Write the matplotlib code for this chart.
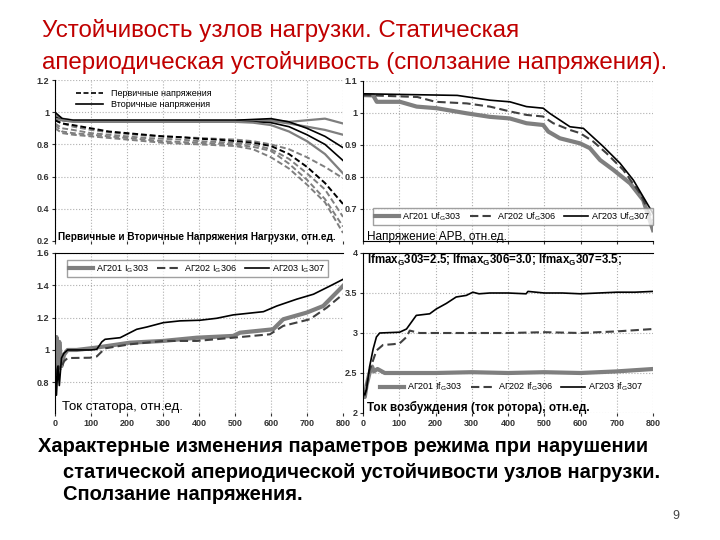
import matplotlib
matplotlib.use("Agg")
import matplotlib.pyplot as plt

plt.rcParams['font.family'] = ['Liberation Sans', 'DejaVu Sans']

# ---- data ----
# top left: primary (dashed) and secondary (solid) load voltages
tl_x = [0, 20, 50, 100, 150, 200, 250, 300, 350, 400, 450, 500, 550, 600, 650, 700, 750, 800]
tl_solid = [
    ('gray',  [0.99, 0.96, 0.95, 0.95, 0.95, 0.95, 0.95, 0.95, 0.95, 0.95, 0.95, 0.95, 0.95, 0.95, 0.94, 0.95, 0.96, 0.93]),
    ('gray',  [0.98, 0.95, 0.945, 0.945, 0.945, 0.945, 0.945, 0.945, 0.945, 0.945, 0.945, 0.945, 0.945, 0.945, 0.93, 0.91, 0.89, 0.86]),
    ('black', [1.0, 0.96, 0.95, 0.95, 0.95, 0.95, 0.95, 0.95, 0.95, 0.95, 0.95, 0.95, 0.955, 0.96, 0.94, 0.90, 0.85, 0.78]),
    ('black', [0.97, 0.95, 0.945, 0.94, 0.94, 0.94, 0.94, 0.94, 0.94, 0.94, 0.94, 0.94, 0.94, 0.935, 0.91, 0.86, 0.80, 0.70]),
    ('gray',  [0.96, 0.95, 0.94, 0.94, 0.94, 0.94, 0.94, 0.94, 0.94, 0.94, 0.94, 0.94, 0.935, 0.92, 0.88, 0.82, 0.74, 0.62]),
]
tl_dashed = [
    ('gray',  [0.95, 0.93, 0.91, 0.89, 0.875, 0.865, 0.855, 0.85, 0.845, 0.84, 0.835, 0.83, 0.82, 0.80, 0.77, 0.72, 0.66, 0.59]),
    ('black', [0.95, 0.93, 0.92, 0.90, 0.88, 0.87, 0.86, 0.85, 0.845, 0.835, 0.83, 0.82, 0.81, 0.79, 0.74, 0.66, 0.56, 0.43]),
    ('gray',  [0.93, 0.90, 0.89, 0.87, 0.86, 0.85, 0.84, 0.835, 0.83, 0.82, 0.815, 0.81, 0.80, 0.77, 0.71, 0.62, 0.52, 0.35]),
    ('gray',  [0.92, 0.88, 0.87, 0.86, 0.85, 0.84, 0.83, 0.82, 0.815, 0.81, 0.805, 0.80, 0.785, 0.76, 0.68, 0.58, 0.46, 0.29]),
    ('gray',  [0.90, 0.87, 0.86, 0.85, 0.84, 0.83, 0.82, 0.81, 0.805, 0.80, 0.795, 0.79, 0.77, 0.72, 0.65, 0.55, 0.44, 0.25]),
]

# top right: AVR voltage
tr_gray_x = [0, 28, 38, 102, 148, 203, 286, 350, 405, 451, 497, 511, 543, 599, 626, 654, 691, 737, 773, 800]
tr_gray_y = [1.056, 1.055, 1.035, 1.035, 1.02, 1.015, 0.999, 0.988, 0.983, 0.968, 0.9625, 0.942, 0.921, 0.905, 0.89, 0.853, 0.822, 0.78, 0.728, 0.634]
tr_dash_x = [0, 150, 200, 286, 350, 405, 451, 497, 525, 571, 599, 635, 672, 718, 764, 800]
tr_dash_y = [1.056, 1.05, 1.035, 1.03, 1.02, 1.005, 0.994, 0.989, 0.968, 0.947, 0.937, 0.911, 0.874, 0.822, 0.749, 0.665]
tr_black_x = [0, 260, 350, 405, 451, 497, 515, 571, 608, 663, 709, 746, 800]
tr_black_y = [1.06, 1.055, 1.04, 1.035, 1.02, 1.015, 0.999, 0.957, 0.952, 0.895, 0.843, 0.79, 0.686]

# bottom left: stator current
bl_gray_x = [0, 4, 8, 12, 18, 25, 35, 60, 116, 208, 301, 394, 495, 514, 606, 634, 699, 745, 800]
bl_gray_y = [0.9, 1.08, 0.85, 1.05, 0.9, 0.97, 1.0, 1.0, 1.015, 1.045, 1.056, 1.076, 1.087, 1.107, 1.128, 1.19, 1.231, 1.272, 1.396]
bl_dash_x = [0, 5, 10, 15, 25, 35, 97, 116, 139, 208, 301, 394, 495, 597, 634, 708, 755, 800]
bl_dash_y = [0.9, 0.85, 0.9, 0.88, 0.93, 0.95, 0.952, 0.96, 1.01, 1.035, 1.056, 1.056, 1.076, 1.097, 1.149, 1.19, 1.262, 1.345]
bl_black_x = [0, 4, 8, 12, 18, 25, 35, 60, 100, 116, 130, 139, 181, 227, 255, 301, 347, 403, 449, 495, 579, 616, 671, 718, 764, 800]
bl_black_y = [0.95, 0.72, 0.9, 0.78, 0.95, 0.98, 1.0, 1.0, 1.0, 1.004, 1.05, 1.066, 1.076, 1.128, 1.142, 1.169, 1.18, 1.184, 1.196, 1.217, 1.237, 1.272, 1.314, 1.345, 1.396, 1.437]

# bottom right: field current
br_gray_x = [0, 5, 10, 18, 25, 30, 40, 60, 100, 200, 300, 400, 500, 600, 700, 800]
br_gray_y = [2.25, 2.2, 2.35, 2.5, 2.58, 2.52, 2.55, 2.5, 2.5, 2.5, 2.51, 2.5, 2.51, 2.5, 2.52, 2.55]
br_dash_x = [0, 5, 10, 18, 37, 55, 83, 101, 120, 129, 156, 200, 300, 400, 500, 600, 700, 800]
br_dash_y = [2.25, 2.22, 2.35, 2.53, 2.78, 2.85, 2.86, 2.87, 2.95, 3.03, 3.0, 3.0, 3.0, 3.0, 3.01, 3.0, 3.02, 3.05]
br_black_x = [0, 5, 10, 18, 28, 37, 46, 101, 120, 147, 184, 202, 230, 257, 285, 303, 320, 350, 400, 450, 455, 500, 550, 600, 650, 700, 750, 800]
br_black_y = [2.25, 2.23, 2.3, 2.575, 2.8, 2.95, 3.0, 3.01, 3.05, 3.22, 3.24, 3.3, 3.37, 3.45, 3.47, 3.51, 3.49, 3.5, 3.5, 3.49, 3.52, 3.5, 3.5, 3.49, 3.5, 3.51, 3.51, 3.52]

x_ticks = [0, 100, 200, 300, 400, 500, 600, 700, 800]

GRAY = '#7f7f7f'
W, H = 720.0, 540.0


def box(left, top, right, bottom):
    return [left / W, 1 - bottom / H, (right - left) / W, (bottom - top) / H]


def style(ax, yticks, ylabels, ylim, show_x):
    ax.set_xlim(0, 800)
    ax.set_ylim(*ylim)
    ax.set_xticks(x_ticks)
    ax.set_yticks(yticks)
    ax.set_yticklabels(ylabels, fontweight='bold')
    if show_x:
        ax.set_xticklabels([str(t) for t in x_ticks], fontweight='bold')
    else:
        ax.set_xticklabels([])
    ax.grid(True, color='#b0b0b0', linestyle=':', linewidth=0.8)
    ax.tick_params(labelsize=6.5, length=2, colors='#333333', pad=2)
    for s in ['top', 'right', 'bottom']:
        ax.spines[s].set_visible(False)
    ax.spines['left'].set_linewidth(0.8)


def legend(ax, anchor, loc, frame):
    ax.legend(loc=loc, bbox_to_anchor=(anchor[0] / W, 1 - anchor[1] / H), bbox_transform=fig.transFigure,
              ncol=3, fontsize=6.5, frameon=frame, fancybox=False, edgecolor='#888888',
              handlelength=2.6, columnspacing=0.9, borderpad=0.3, handletextpad=0.4)


fig = plt.figure(figsize=(7.2, 5.4), dpi=100)

# ---------- top left ----------
ax1 = fig.add_axes(box(55, 80, 343, 241))
for c, y in tl_solid:
    ax1.plot(tl_x, y, color=GRAY if c == 'gray' else 'black', lw=1.6 if c == 'gray' else 1.2)
for c, y in tl_dashed:
    ax1.plot(tl_x, y, color=GRAY if c == 'gray' else 'black', lw=1.4, ls=(0, (3, 1.5)))
style(ax1, [0.2, 0.4, 0.6, 0.8, 1.0, 1.2], ['0.2', '0.4', '0.6', '0.8', '1', '1.2'], (0.2, 1.2), False)
h1, = ax1.plot([], [], color='black', lw=1.2, ls=(0, (3, 1.5)))
h2, = ax1.plot([], [], color='black', lw=1.2)
ax1.legend([h1, h2], ['Первичные напряжения', 'Вторичные напряжения'], loc='upper left',
           bbox_to_anchor=(70 / W, 1 - 83 / H), bbox_transform=fig.transFigure,
           fontsize=6.5, frameon=False, handlelength=3, borderpad=0.2, labelspacing=0.2)
fig.text(58 / W, 1 - 237 / H, 'Первичные и Вторичные Напряжения Нагрузки, отн.ед.',
         fontsize=7.2, fontweight='bold', va='center', ha='left')

# ---------- top right ----------
ax2 = fig.add_axes(box(363, 81, 653, 241))
ax2.plot(tr_gray_x, tr_gray_y, color=GRAY, lw=3, label=r'АГ201 Uf$_\mathregular{G}$303')
ax2.plot(tr_dash_x, tr_dash_y, color='#404040', lw=1.5, ls=(0, (4, 2)), label=r'АГ202 Uf$_\mathregular{G}$306')
ax2.plot(tr_black_x, tr_black_y, color='black', lw=1.2, label=r'АГ203 Uf$_\mathregular{G}$307')
style(ax2, [0.7, 0.8, 0.9, 1.0, 1.1], ['0.7', '0.8', '0.9', '1', '1.1'], (0.6, 1.1), False)
ax2.spines['bottom'].set_visible(True)
legend(ax2, (368, 230), 'lower left', True)
fig.text(367 / W, 1 - 237 / H, 'Напряжение АРВ, отн.ед.', fontsize=8.5, va='center', ha='left')

# ---------- bottom left ----------
ax3 = fig.add_axes(box(55, 253, 343, 413))
ax3.plot(bl_gray_x, bl_gray_y, color=GRAY, lw=3, label=r'АГ201 I$_\mathregular{G}$303')
ax3.plot(bl_dash_x, bl_dash_y, color='#404040', lw=1.5, ls=(0, (4, 2)), label=r'АГ202 I$_\mathregular{G}$306')
ax3.plot(bl_black_x, bl_black_y, color='black', lw=1.2, label=r'АГ203 I$_\mathregular{G}$307')
style(ax3, [0.8, 1.0, 1.2, 1.4, 1.6], ['0.8', '1', '1.2', '1.4', '1.6'], (0.61, 1.6), True)
ax3.spines['top'].set_visible(True)
legend(ax3, (62, 255), 'upper left', True)
fig.text(62 / W, 1 - 407 / H, 'Ток статора, отн.ед.', fontsize=9.5, va='center', ha='left')

# ---------- bottom right ----------
ax4 = fig.add_axes(box(363, 253, 653, 413))
ax4.plot(br_gray_x, br_gray_y, color=GRAY, lw=3, label=r'АГ201 If$_\mathregular{G}$303')
ax4.plot(br_dash_x, br_dash_y, color='#404040', lw=1.5, ls=(0, (4, 2)), label=r'АГ202 If$_\mathregular{G}$306')
ax4.plot(br_black_x, br_black_y, color='black', lw=1.2, label=r'АГ203 If$_\mathregular{G}$307')
style(ax4, [2, 2.5, 3, 3.5, 4], ['2', '2.5', '3', '3.5', '4'], (2, 4), True)
ax4.spines['top'].set_visible(True)
legend(ax4, (512, 387), 'center', False)
fig.text(367 / W, 1 - 260 / H,
         r'Ifmax$_\mathregular{G}$303=2.5; Ifmax$_\mathregular{G}$306=3.0; Ifmax$_\mathregular{G}$307=3.5;',
         fontsize=8.3, fontweight='bold', va='center', ha='left')
fig.text(367 / W, 1 - 407 / H, 'Ток возбуждения (ток ротора), отн.ед.', fontsize=8.5, fontweight='bold',
         va='center', ha='left')

# ---------- slide texts ----------
fig.text(42 / W, 1 - 30 / H, 'Устойчивость узлов нагрузки. Статическая',
         fontsize=17.4, color='#c00000', va='center', ha='left')
fig.text(42 / W, 1 - 62 / H, 'апериодическая устойчивость (сползание напряжения).',
         fontsize=17.4, color='#c00000', va='center', ha='left')
fig.text(38 / W, 1 - 447 / H, 'Характерные изменения параметров режима при нарушении',
         fontsize=14.5, fontweight='bold', va='center', ha='left')
fig.text(63 / W, 1 - 472 / H, 'статической апериодической устойчивости узлов нагрузки.',
         fontsize=14.5, fontweight='bold', va='center', ha='left')
fig.text(63 / W, 1 - 495 / H, 'Сползание напряжения.',
         fontsize=14.5, fontweight='bold', va='center', ha='left')
fig.text(672 / W, 1 - 516 / H, '9', fontsize=9, color='#444444', va='center', ha='left')

fig.savefig('out.png', dpi=100)
